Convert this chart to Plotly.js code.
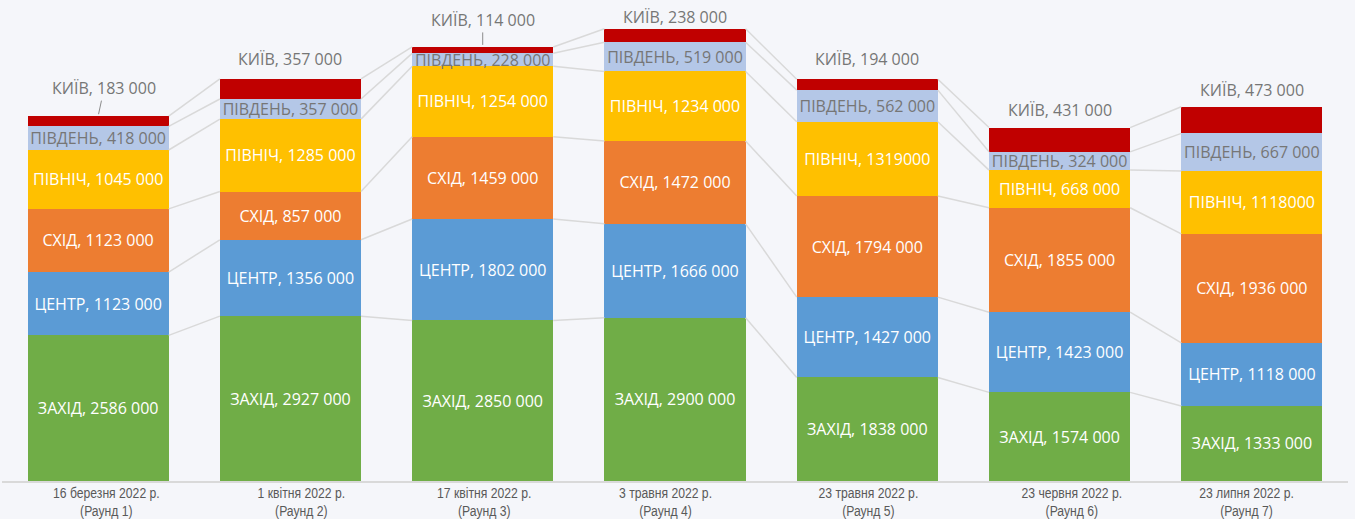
<!DOCTYPE html>
<html>
<head>
<meta charset="utf-8">
<script src="https://cdn.plot.ly/plotly-3.0.1.min.js"></script>
<style>html,body{margin:0;padding:0;background:#F5F6FA;}#chart{width:1355px;height:519px;}</style>
</head>
<body>
<div id="chart"></div>
<script>
const categories = ["16 березня 2022 р.<br>(Раунд 1)", "1 квітня 2022 р.<br>(Раунд 2)", "17 квітня 2022 р.<br>(Раунд 3)", "3 травня 2022 р.<br>(Раунд 4)", "23 травня 2022 р.<br>(Раунд 5)", "23 червня 2022 р.<br>(Раунд 6)", "23 липня 2022 р.<br>(Раунд 7)"];
const seriesNames = ["ЗАХІД", "ЦЕНТР", "СХІД", "ПІВНІЧ", "ПІВДЕНЬ", "КИЇВ"];
const zakhid  = [2586000, 2927000, 2850000, 2900000, 1838000, 1574000, 1333000];
const tsentr  = [1123000, 1356000, 1802000, 1666000, 1427000, 1423000, 1118000];
const skhid   = [1123000, 857000, 1459000, 1472000, 1794000, 1855000, 1936000];
const pivnich = [1045000, 1285000, 1254000, 1234000, 1319000, 668000, 1118000];
const pivden  = [418000, 357000, 228000, 519000, 562000, 324000, 667000];
const kyiv    = [183000, 357000, 114000, 238000, 194000, 431000, 473000];
// labels written without a thousands space in the source (series index, category index)
const plainLabels = [[3, 4], [3, 6]];

const series = [zakhid, tsentr, skhid, pivnich, pivden, kyiv];
const colors = ["#70AD47", "#5B9BD5", "#ED7D31", "#FFC000", "#B4C7E7", "#C00000"];
const textColors = ["#FFFFFF", "#FFFFFF", "#FFFFFF", "#FFFFFF", "#767676", "#767676"];
const xs = categories.map((c, i) => i);
const barWidth = 0.734;

function fmt(v, plain) {
  const th = Math.floor(v / 1000);
  const rest = String(v % 1000).padStart(3, "0");
  return plain ? String(v) : th + " " + rest;
}
function isPlain(s, i) { return plainLabels.some(p => p[0] === s && p[1] === i); }

const traces = [];
series.forEach((vals, s) => {
  traces.push({
    type: "bar",
    x: xs,
    y: vals,
    width: barWidth,
    marker: {color: colors[s]},
    text: s === 5 ? vals.map(() => "") : vals.map((v, i) => seriesNames[s] + ", " + fmt(v, isPlain(s, i))),
    textposition: "inside",
    insidetextanchor: "middle",
    constraintext: "none",
    textangle: 0,
    textfont: {family: "Open Sans, sans-serif", size: 16, color: textColors[s]},
    hoverinfo: "none",
    showlegend: false
  });
});

// cumulative tops for series lines
const cum = [];
let run = xs.map(() => 0);
series.forEach(vals => {
  run = run.map((r, i) => r + vals[i]);
  cum.push(run.slice());
});
cum.forEach(level => {
  const lx = [], ly = [];
  for (let i = 0; i < xs.length - 1; i++) {
    lx.push(xs[i] + barWidth / 2, xs[i + 1] - barWidth / 2, null);
    ly.push(level[i], level[i + 1], null);
  }
  traces.push({type: "scatter", mode: "lines", x: lx, y: ly, line: {color: "#D9D9D9", width: 1.5},
    hoverinfo: "none", showlegend: false, cliponaxis: false});
});

const totals = cum[cum.length - 1];
const kyivOffsets = [28, 20, 27, 12, 20, 18, 17];
const kyivArrows = [[6, -28], null, [0, -27], null, null, null, null];
const annotations = kyiv.map((v, i) => {
  const a = {
    x: xs[i], y: totals[i], xref: "x", yref: "y",
    text: seriesNames[5] + ", " + fmt(v, false),
    font: {family: "Open Sans, sans-serif", size: 16, color: "#767676"}
  };
  if (kyivArrows[i]) {
    Object.assign(a, {showarrow: true, arrowhead: 0, arrowwidth: 1, arrowcolor: "#8C8C8C",
      ax: kyivArrows[i][0], ay: kyivArrows[i][1], standoff: 2});
  } else {
    Object.assign(a, {showarrow: false, yanchor: "middle", yshift: kyivOffsets[i]});
  }
  return a;
});

// category labels (placed as in the original, slightly off-centre)
const catShift = [8, 11, 1, -10, 1, 12, -5];
const firstCatAnn = annotations.length;
categories.forEach((c, i) => {
  annotations.push({
    x: xs[i], y: 0, xref: "x", yref: "paper", xanchor: "center", yanchor: "top",
    xshift: catShift[i], yshift: -2, showarrow: false, align: "center",
    text: c,
    font: {family: "Liberation Sans, Arial, sans-serif", size: 14, color: "#595959"}
  });
});

const layout = {
  width: 1355, height: 519,
  margin: {l: 2, r: 7, t: 0, b: 38},
  paper_bgcolor: "#F5F6FA", plot_bgcolor: "#F5F6FA",
  barmode: "stack",
  showlegend: false,
  xaxis: {
    range: [-0.5, 6.5], tickvals: xs, showticklabels: false,
    showline: true, linecolor: "#D9D9D9", linewidth: 1.5,
    showgrid: false, zeroline: false, ticks: ""
  },
  yaxis: {range: [0, 8540000], visible: false, showgrid: false, zeroline: false},
  annotations: annotations
};

Plotly.newPlot("chart", traces, layout, {displayModeBar: false, staticPlot: true}).then(() => {
  // emulate the narrow face of the original category labels
  document.querySelectorAll("g.annotation").forEach(g => {
    const idx = parseInt(g.getAttribute("data-index"), 10);
    if (idx < firstCatAnn) return;
    const t = g.querySelector("text.annotation-text");
    if (!t) return;
    const bb = t.getBBox();
    const cx = bb.x + bb.width / 2;
    const tr = t.getAttribute("transform") || "";
    t.setAttribute("transform", tr + " translate(" + cx + ",0) scale(0.87,1) translate(" + (-cx) + ",0)");
  });
});
</script>
</body>
</html>
